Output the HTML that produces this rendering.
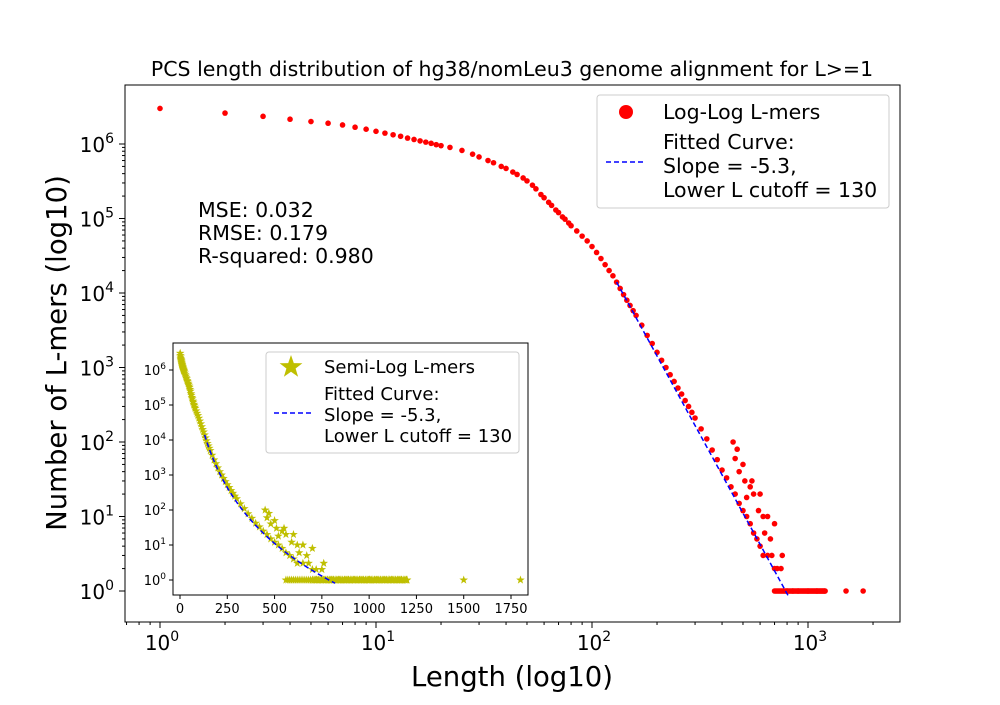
<!DOCTYPE html>
<html><head><meta charset="utf-8"><style>
body{margin:0;background:#fff}
svg{font-family:"DejaVu Sans","Liberation Sans",sans-serif}
</style></head><body>
<svg id="c" width="1000" height="700" xmlns="http://www.w3.org/2000/svg"></svg>
<script>
const lengths=[1,2,3,4,5,6,7,8,9,10,11,12,13,14,15,16,17,18,19,20,22,25,28,30,33,35,38,40,43,45,48,50,53,55,58,60,63,65,68,70,73,75,78,80,85,90,95,100,105,110,115,120,125,130,135,140,145,150,155,160,170,180,190,200,210,220,230,240,250,260,270,280,290,300,320,340,360,380,400,420,440,460,480,500,520,540,560,580,600,620,650,700,750,800,850,900,1000,1100,1200,1500,1800,450,460,470,480,500,510,550,560,600,620,650,700,680,720,760,540,520,590,630,670];
const counts=[3.0e6,2.6e6,2.35e6,2.15e6,2.0e6,1.9e6,1.8e6,1.68e6,1.58e6,1.48e6,1.4e6,1.33e6,1.27e6,1.2e6,1.15e6,1.1e6,1.06e6,1.02e6,9.8e5,9.5e5,9e5,8.2e5,7.3e5,6.7e5,6e5,5.6e5,5e5,4.7e5,4.2e5,3.9e5,3.5e5,3.2e5,2.8e5,2.5e5,2.1e5,1.9e5,1.65e5,1.5e5,1.3e5,1.2e5,1.05e5,9.8e4,8.7e4,8e4,6.8e4,5.8e4,5e4,4.2e4,3.5e4,2.9e4,2.4e4,2e4,1.7e4,1.4e4,1.15e4,9.5e3,8e3,6.8e3,5.8e3,5e3,3.7e3,2.7e3,2.1e3,1.6e3,1.25e3,1.0e3,800,650,530,440,360,300,250,210,150,110,78,58,42,33,25,20,15,12,10,8,6,5,4,3,3,2,2,1,1,1,1,1,1,1,1,100,60,80,40,50,30,30,20,20,10,10,8,3,2,3,25,18,12,6,5];
const fitSlope=-5.3, fitL0=130, fitC0=1.4e4, fitL1=820;
const xTicks=[1,10,100,1000], yTicks=[0,1,2,3,4,5,6];
const insetXTicks=[0,250,500,750,1000,1250,1500,1750];
const S=document.getElementById('c'),NS='http://www.w3.org/2000/svg';
function el(t,a,p){const e=document.createElementNS(NS,t);for(const k in a)e.setAttribute(k,a[k]);(p||S).appendChild(e);return e;}
const X=v=>160+216*Math.log10(v), Y=v=>591-74.5*Math.log10(v);
const tail=[];for(let L=700;L<=1200;L+=8)tail.push(L);
const g=el('g',{});
function pts(){const a=lengths.map((l,i)=>[l,counts[i]]);tail.forEach(l=>a.push([l,1]));return a;}
pts().forEach(([l,c])=>{const p=el('circle',{cx:X(l),cy:Y(c),r:2.8,fill:'#f00'},g);});
const fitC1=fitC0*Math.pow(fitL1/fitL0,fitSlope);
const fl=el('line',{x1:X(fitL0),y1:Y(fitC0),x2:X(fitL1),y2:Y(fitC1),stroke:'#00f','stroke-width':1.5,'stroke-dasharray':'5,3'});

const fr=el('rect',{x:125,y:85,width:775,height:537,fill:'none',stroke:'#000','stroke-width':1});

xTicks.forEach((t,i)=>{el('line',{x1:X(t),x2:X(t),y1:622,y2:628,stroke:'#000'});
 const tx=el('text',{x:X(t)+2,y:650,'font-size':20,'text-anchor':'middle'});tx.innerHTML='10<tspan dy="-9" font-size="14">'+i+'</tspan>';
 
 for(let m=2;m<10;m++){const v=t*m;if(X(v)<900)el('line',{x1:X(v),x2:X(v),y1:622,y2:625,stroke:'#000'});}
});
[0.7,0.8,0.9].forEach(v=>el('line',{x1:X(v),x2:X(v),y1:622,y2:625,stroke:'#000'}));
yTicks.forEach(t=>{const y=Y(Math.pow(10,t));el('line',{x1:119,x2:125,y1:y,y2:y,stroke:'#000'});
 const tx=el('text',{x:114,y:y+8,'font-size':20,'text-anchor':'end'});tx.innerHTML='10<tspan dy="-9" font-size="14">'+t+'</tspan>';
 
 for(let m=2;m<10&&t<6;m++){const yy=Y(Math.pow(10,t)*m);el('line',{x1:122,x2:125,y1:yy,y2:yy,stroke:'#000'});}
});
function txt(s,a,name){const t=el('text',a);t.textContent=s;return t;}
txt('PCS length distribution of hg38/nomLeu3 genome alignment for L>=1',{x:512,y:76,'font-size':20.5,'text-anchor':'middle'},'chart-title');
txt('Length (log10)',{x:512,y:686,'font-size':27.5,'text-anchor':'middle'},'x-axis-title');
txt('Number of L-mers (log10)',{x:0,y:0,'font-size':27.5,'text-anchor':'middle',transform:'translate(66,353) rotate(-90)'},'y-axis-title');
txt('MSE: 0.032',{x:198,y:217,'font-size':20.5},'mse-text');
txt('RMSE: 0.179',{x:198,y:240,'font-size':20.5},'rmse-text');
txt('R-squared: 0.980',{x:198,y:263,'font-size':20.5},'r2-text');
const lg=el('rect',{x:597,y:95,width:292,height:113,rx:3,fill:'#fff',stroke:'#ccc'});
el('circle',{cx:626,cy:112,r:7,fill:'#f00'});
txt('Log-Log L-mers',{x:663,y:119,'font-size':20.5},'legend-entry-data');
el('line',{x1:606,x2:646,y1:162,y2:162,stroke:'#00f','stroke-width':1.5,'stroke-dasharray':'5,3'});
txt('Fitted Curve:',{x:663,y:149,'font-size':20.5},'legend-entry-fit');
txt('Slope = -5.3,',{x:663,y:173,'font-size':20.5},'legend-fit-slope');
txt('Lower L cutoff = 130',{x:663,y:197,'font-size':20.5},'legend-fit-cutoff');
const IX=v=>180+v*(331/1750), IY=v=>580-35*Math.log10(v);
const ib=el('rect',{x:173,y:343,width:355,height:252,fill:'#fff',stroke:'#000'});
const ig=el('g',{});
function star(cx,cy,r){let d='';for(let i=0;i<10;i++){const a=-Math.PI/2+i*Math.PI/5,rr=i%2?r*0.4:r;d+=(i?'L':'M')+(cx+rr*Math.cos(a)).toFixed(1)+','+(cy+rr*Math.sin(a)).toFixed(1);}return d+'Z';}
const ipts=pts();for(let L=560;L<=1200;L+=10)ipts.push([L,1]);
ipts.forEach(([l,c])=>{const p=el('path',{d:star(IX(l),IY(c),4.5),fill:'#bfbf00'},ig);});
let d='';for(let L=fitL0;L<=fitL1;L+=10){d+=(L==fitL0?'M':'L')+IX(L)+','+IY(fitC0*Math.pow(L/fitL0,fitSlope));}
const ifl=el('path',{d:d,fill:'none',stroke:'#00f','stroke-width':1.5,'stroke-dasharray':'5,3'});
insetXTicks.forEach(t=>{el('line',{x1:IX(t),x2:IX(t),y1:595,y2:599,stroke:'#000'});txt(String(t),{x:IX(t),y:613,'font-size':13,'text-anchor':'middle'},'inset-x-tick-label');});
yTicks.forEach(t=>{const y=IY(Math.pow(10,t));el('line',{x1:169,x2:173,y1:y,y2:y,stroke:'#000'});
 const tx=el('text',{x:166,y:y+5,'font-size':13,'text-anchor':'end'});tx.innerHTML='10<tspan dy="-6" font-size="9">'+t+'</tspan>';
 });
const il=el('rect',{x:266,y:352,width:253,height:101,rx:3,fill:'#fff',stroke:'#ccc'});
el('path',{d:star(291,367,12),fill:'#bfbf00'});
txt('Semi-Log L-mers',{x:324,y:373,'font-size':18},'inset-legend-data');
el('line',{x1:274,x2:312,y1:413,y2:413,stroke:'#00f','stroke-width':1.5,'stroke-dasharray':'5,3'});
txt('Fitted Curve:',{x:324,y:400,'font-size':18},'inset-legend-fit');
txt('Slope = -5.3,',{x:324,y:421,'font-size':18},'inset-legend-slope');
txt('Lower L cutoff = 130',{x:324,y:442,'font-size':18},'inset-legend-cutoff');
</script>
</body></html>
